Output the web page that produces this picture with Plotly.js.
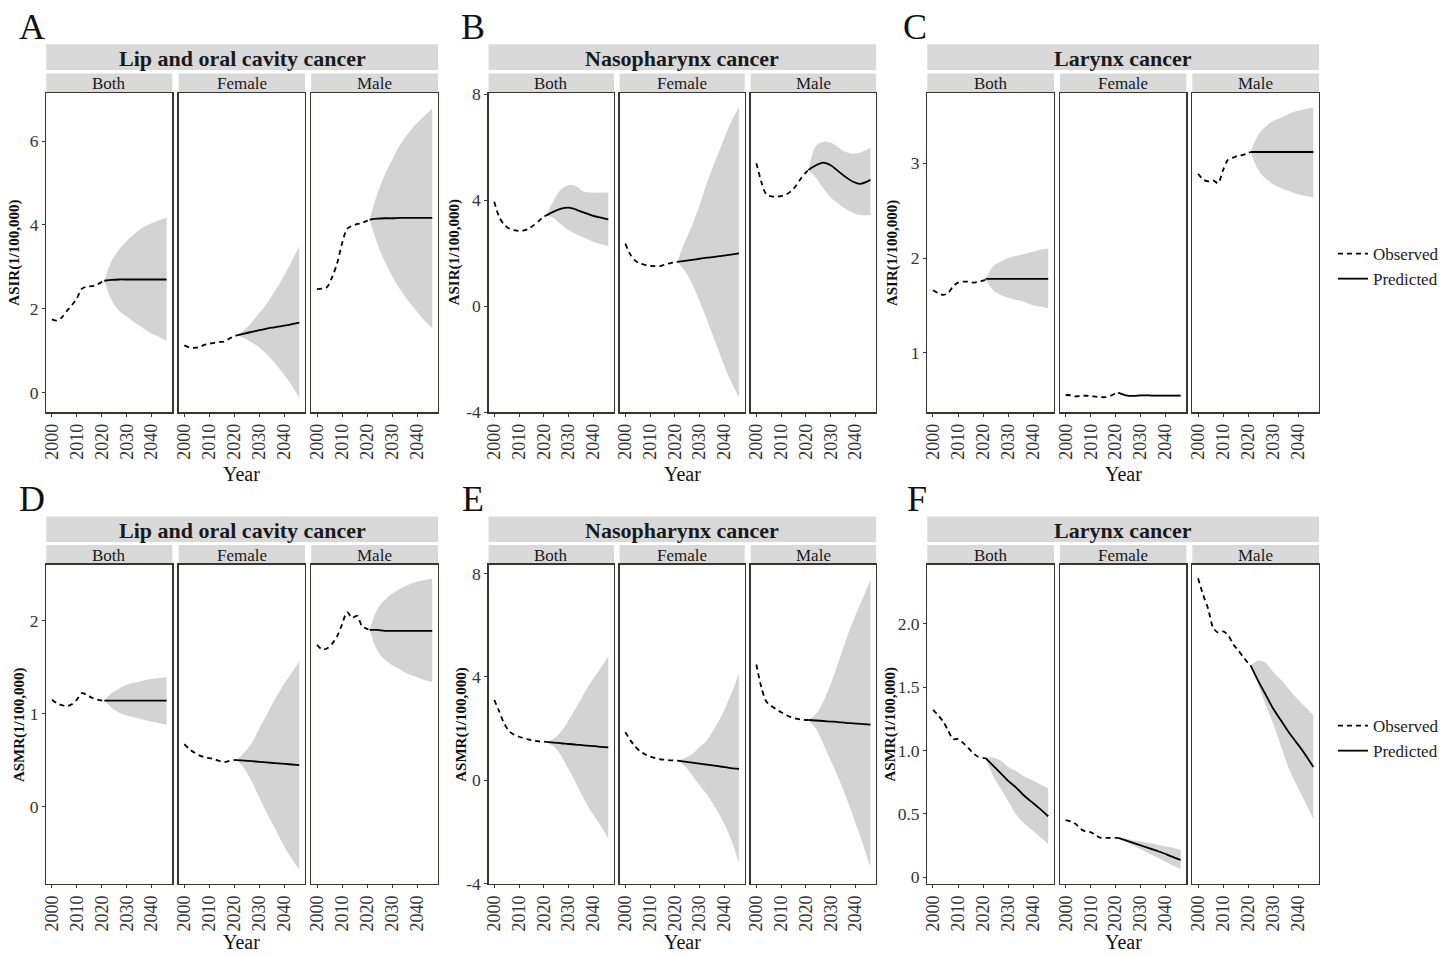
<!DOCTYPE html>
<html><head><meta charset="utf-8">
<script src="https://cdn.plot.ly/plotly-3.0.1.min.js"></script>
<style>html,body{margin:0;padding:0;background:#fff}#chart{width:1444px;height:955px}</style>
</head><body><div id="chart"></div>
<script>
// ---------------- categories & labels ----------------
const sexes = ['Both', 'Female', 'Male'];
const cancers = ['Lip and oral cavity cancer', 'Nasopharynx cancer', 'Larynx cancer'];
const measures = ['ASIR(1/100,000)', 'ASMR(1/100,000)'];
const panelLetters = ['A', 'B', 'C', 'D', 'E', 'F'];
const xTickVals = [2000, 2010, 2020, 2030, 2040];
const yTicksA = [0, 2, 4, 6];
const yTicksB = [-4, 0, 4, 8];
const yTicksC = [1, 2, 3];
const yTicksD = [0, 1, 2];
const yTicksE = [-4, 0, 4, 8];
const yTicksF = [0, 0.5, 1, 1.5, 2];
const yTickTextF = ['0', '0.5', '1.0', '1.5', '2.0'];
const legendNames = ['Observed', 'Predicted'];

// ---------------- years ----------------
const obsYears  = [2000, 2002, 2004, 2006, 2008, 2010, 2012, 2014, 2016, 2018, 2020, 2021];
const predYears = [2021, 2024, 2027, 2030, 2033, 2036, 2039, 2042, 2046];

// ---------------- A: ASIR, Lip and oral cavity ----------------
const A_Both_obs   = [1.75, 1.72, 1.80, 1.95, 2.09, 2.25, 2.48, 2.53, 2.54, 2.58, 2.64, 2.67];
const A_Both_pred  = [2.67, 2.69, 2.70, 2.70, 2.70, 2.70, 2.70, 2.70, 2.70];
const A_Both_up    = [2.67, 3.15, 3.42, 3.62, 3.78, 3.92, 4.02, 4.09, 4.17];
const A_Both_lo    = [2.67, 2.20, 1.95, 1.82, 1.68, 1.56, 1.44, 1.36, 1.24];
const A_Female_obs = [1.13, 1.08, 1.07, 1.09, 1.14, 1.17, 1.19, 1.21, 1.22, 1.29, 1.35, 1.37];
const A_Female_pred= [1.37, 1.41, 1.45, 1.49, 1.53, 1.56, 1.59, 1.62, 1.67];
const A_Female_up  = [1.37, 1.50, 1.68, 1.90, 2.13, 2.40, 2.70, 3.02, 3.50];
const A_Female_lo  = [1.37, 1.30, 1.20, 1.08, 0.92, 0.72, 0.50, 0.26, -0.12];
const A_Male_obs   = [2.47, 2.48, 2.52, 2.75, 3.08, 3.56, 3.91, 3.98, 4.02, 4.05, 4.10, 4.13];
const A_Male_pred  = [4.13, 4.15, 4.16, 4.16, 4.17, 4.17, 4.17, 4.17, 4.17];
const A_Male_up    = [4.13, 4.73, 5.20, 5.55, 5.90, 6.15, 6.37, 6.55, 6.78];
const A_Male_lo    = [4.13, 3.57, 3.13, 2.78, 2.48, 2.22, 2.00, 1.78, 1.53];

// ---------------- B: ASIR, Nasopharynx ----------------
const B_Both_obs   = [3.94, 3.37, 3.08, 2.93, 2.87, 2.84, 2.86, 2.93, 3.06, 3.22, 3.37, 3.43];
const B_Both_pred  = [3.43, 3.57, 3.68, 3.72, 3.65, 3.54, 3.44, 3.36, 3.28];
const B_Both_up    = [3.43, 4.00, 4.42, 4.57, 4.53, 4.33, 4.29, 4.29, 4.29];
const B_Both_lo    = [3.43, 3.32, 3.08, 2.87, 2.72, 2.60, 2.47, 2.37, 2.28];
const B_Female_obs = [2.36, 1.95, 1.72, 1.61, 1.56, 1.52, 1.51, 1.51, 1.57, 1.62, 1.66, 1.67];
const B_Female_pred= [1.67, 1.71, 1.75, 1.79, 1.83, 1.86, 1.90, 1.94, 1.99];
const B_Female_up  = [1.67, 2.40, 3.05, 3.80, 4.65, 5.40, 6.10, 6.80, 7.52];
const B_Female_lo  = [1.67, 1.35, 0.85, 0.20, -0.50, -1.25, -2.00, -2.70, -3.45];
const B_Male_obs   = [5.40, 4.70, 4.22, 4.15, 4.14, 4.16, 4.22, 4.34, 4.55, 4.82, 5.05, 5.14];
const B_Male_pred  = [5.14, 5.32, 5.42, 5.32, 5.10, 4.88, 4.70, 4.62, 4.77];
const B_Male_up    = [5.14, 6.05, 6.20, 6.18, 6.00, 5.82, 5.76, 5.80, 5.98];
const B_Male_lo    = [5.14, 4.85, 4.45, 4.10, 3.88, 3.68, 3.52, 3.44, 3.44];

// ---------------- C: ASIR, Larynx ----------------
const C_Both_obs   = [1.66, 1.63, 1.61, 1.63, 1.70, 1.74, 1.75, 1.75, 1.74, 1.75, 1.76, 1.77];
const C_Both_pred  = [1.78, 1.78, 1.78, 1.78, 1.78, 1.78, 1.78, 1.78, 1.78];
const C_Both_up    = [1.78, 1.91, 1.96, 2.00, 2.02, 2.04, 2.06, 2.08, 2.10];
const C_Both_lo    = [1.78, 1.66, 1.61, 1.58, 1.56, 1.54, 1.51, 1.49, 1.47];
const C_Female_obs = [0.553, 0.550, 0.537, 0.545, 0.545, 0.540, 0.535, 0.530, 0.530, 0.545, 0.570, 0.577];
const C_Female_pred= [0.577, 0.550, 0.543, 0.548, 0.548, 0.546, 0.546, 0.546, 0.546];
const C_Female_up  = [0.577, 0.556, 0.550, 0.556, 0.557, 0.556, 0.556, 0.557, 0.557];
const C_Female_lo  = [0.577, 0.544, 0.536, 0.540, 0.539, 0.536, 0.536, 0.535, 0.535];
const C_Male_obs   = [2.89, 2.83, 2.81, 2.82, 2.79, 2.93, 3.04, 3.06, 3.08, 3.09, 3.11, 3.12];
const C_Male_pred  = [3.12, 3.12, 3.12, 3.12, 3.12, 3.12, 3.12, 3.12, 3.12];
const C_Male_up    = [3.12, 3.30, 3.39, 3.45, 3.48, 3.52, 3.55, 3.57, 3.59];
const C_Male_lo    = [3.12, 2.93, 2.84, 2.78, 2.74, 2.71, 2.68, 2.66, 2.64];

// ---------------- D: ASMR, Lip and oral cavity ----------------
const D_Both_obs   = [1.15, 1.11, 1.09, 1.08, 1.10, 1.15, 1.22, 1.20, 1.17, 1.15, 1.14, 1.13];
const D_Both_pred  = [1.14, 1.14, 1.14, 1.14, 1.14, 1.14, 1.14, 1.14, 1.14];
const D_Both_up    = [1.14, 1.22, 1.27, 1.31, 1.33, 1.35, 1.37, 1.38, 1.39];
const D_Both_lo    = [1.14, 1.06, 1.01, 0.98, 0.96, 0.94, 0.92, 0.90, 0.88];
const D_Female_obs = [0.67, 0.62, 0.58, 0.55, 0.53, 0.52, 0.51, 0.49, 0.48, 0.49, 0.50, 0.50];
const D_Female_pred= [0.50, 0.494, 0.488, 0.481, 0.474, 0.468, 0.461, 0.455, 0.445];
const D_Female_up  = [0.50, 0.58, 0.68, 0.84, 0.99, 1.14, 1.28, 1.40, 1.56];
const D_Female_lo  = [0.50, 0.41, 0.27, 0.10, -0.07, -0.22, -0.38, -0.52, -0.68];
const D_Male_obs   = [1.74, 1.69, 1.70, 1.75, 1.83, 1.96, 2.09, 2.03, 2.05, 1.94, 1.91, 1.90];
const D_Male_pred  = [1.90, 1.90, 1.89, 1.89, 1.89, 1.89, 1.89, 1.89, 1.89];
const D_Male_up    = [1.90, 2.12, 2.22, 2.29, 2.34, 2.38, 2.41, 2.43, 2.45];
const D_Male_lo    = [1.90, 1.68, 1.58, 1.52, 1.48, 1.43, 1.40, 1.37, 1.34];

// ---------------- E: ASMR, Nasopharynx ----------------
const E_Both_obs   = [3.11, 2.66, 2.20, 1.90, 1.76, 1.68, 1.62, 1.57, 1.53, 1.50, 1.49, 1.48];
const E_Both_pred  = [1.48, 1.45, 1.43, 1.40, 1.38, 1.35, 1.33, 1.30, 1.27];
const E_Both_up    = [1.48, 1.60, 1.88, 2.32, 2.80, 3.32, 3.80, 4.21, 4.79];
const E_Both_lo    = [1.48, 1.30, 0.95, 0.42, -0.12, -0.70, -1.20, -1.62, -2.27];
const E_Female_obs = [1.86, 1.55, 1.30, 1.12, 1.00, 0.92, 0.86, 0.81, 0.79, 0.77, 0.76, 0.76];
const E_Female_pred= [0.76, 0.72, 0.68, 0.64, 0.60, 0.56, 0.52, 0.48, 0.44];
const E_Female_up  = [0.76, 0.85, 1.00, 1.28, 1.55, 2.00, 2.50, 3.15, 4.12];
const E_Female_lo  = [0.76, 0.55, 0.20, -0.20, -0.55, -1.00, -1.50, -2.10, -3.20];
const E_Male_obs   = [4.48, 3.60, 3.05, 2.88, 2.74, 2.63, 2.52, 2.44, 2.38, 2.35, 2.33, 2.33];
const E_Male_pred  = [2.33, 2.31, 2.29, 2.27, 2.25, 2.22, 2.20, 2.18, 2.15];
const E_Male_up    = [2.33, 2.55, 3.05, 3.73, 4.55, 5.40, 6.15, 6.84, 7.74];
const E_Male_lo    = [2.33, 2.00, 1.40, 0.76, 0.10, -0.60, -1.40, -2.20, -3.38];

// ---------------- F: ASMR, Larynx ----------------
const F_Both_obs   = [1.32, 1.28, 1.23, 1.16, 1.09, 1.09, 1.06, 1.02, 0.98, 0.95, 0.94, 0.94];
const F_Both_pred  = [0.94, 0.88, 0.82, 0.76, 0.71, 0.65, 0.60, 0.55, 0.48];
const F_Both_up    = [0.94, 0.945, 0.92, 0.87, 0.84, 0.80, 0.77, 0.74, 0.70];
const F_Both_lo    = [0.94, 0.80, 0.70, 0.60, 0.50, 0.43, 0.38, 0.33, 0.26];
const F_Female_obs = [0.45, 0.44, 0.42, 0.38, 0.36, 0.355, 0.33, 0.31, 0.31, 0.31, 0.31, 0.31];
const F_Female_pred= [0.31, 0.29, 0.27, 0.25, 0.23, 0.21, 0.19, 0.165, 0.136];
const F_Female_up  = [0.31, 0.305, 0.29, 0.28, 0.27, 0.26, 0.245, 0.235, 0.215];
const F_Female_lo  = [0.31, 0.28, 0.25, 0.22, 0.19, 0.16, 0.13, 0.10, 0.066];
const F_Male_obs   = [2.36, 2.23, 2.12, 1.97, 1.93, 1.94, 1.91, 1.84, 1.79, 1.74, 1.69, 1.67];
const F_Male_pred  = [1.67, 1.55, 1.44, 1.33, 1.24, 1.15, 1.07, 0.99, 0.87];
const F_Male_up    = [1.67, 1.71, 1.69, 1.62, 1.56, 1.49, 1.42, 1.36, 1.28];
const F_Male_lo    = [1.67, 1.52, 1.36, 1.21, 1.04, 0.87, 0.74, 0.62, 0.46];

// ---------------- assemble panels from the arrays ----------------
const panelSeries = [
  [[A_Both_obs, A_Both_pred, A_Both_up, A_Both_lo], [A_Female_obs, A_Female_pred, A_Female_up, A_Female_lo], [A_Male_obs, A_Male_pred, A_Male_up, A_Male_lo]],
  [[B_Both_obs, B_Both_pred, B_Both_up, B_Both_lo], [B_Female_obs, B_Female_pred, B_Female_up, B_Female_lo], [B_Male_obs, B_Male_pred, B_Male_up, B_Male_lo]],
  [[C_Both_obs, C_Both_pred, C_Both_up, C_Both_lo], [C_Female_obs, C_Female_pred, C_Female_up, C_Female_lo], [C_Male_obs, C_Male_pred, C_Male_up, C_Male_lo]],
  [[D_Both_obs, D_Both_pred, D_Both_up, D_Both_lo], [D_Female_obs, D_Female_pred, D_Female_up, D_Female_lo], [D_Male_obs, D_Male_pred, D_Male_up, D_Male_lo]],
  [[E_Both_obs, E_Both_pred, E_Both_up, E_Both_lo], [E_Female_obs, E_Female_pred, E_Female_up, E_Female_lo], [E_Male_obs, E_Male_pred, E_Male_up, E_Male_lo]],
  [[F_Both_obs, F_Both_pred, F_Both_up, F_Both_lo], [F_Female_obs, F_Female_pred, F_Female_up, F_Female_lo], [F_Male_obs, F_Male_pred, F_Male_up, F_Male_lo]]
];
const panelYTicks = [yTicksA, yTicksB, yTicksC, yTicksD, yTicksE, yTicksF];
const panelYTickText = [null, null, null, null, null, yTickTextF];

// ---------------- geometry & style (pixels) ----------------
const W = 1444, H = 955;
const FONT = 'Liberation Serif, "Times New Roman", Times, serif';
const panelYRange = [[-0.467, 7.14], [-4.01, 8.04], [0.37, 3.74], [-0.833, 2.603], [-4.02, 8.35], [-0.055, 2.469]];
const xRange = [1997.7, 2048.3];
const colPx = [
  [[46.7, 174], [180.3, 308], [314.3, 442.3]],
  [[493.3, 620], [625.7, 752], [758, 884.7]],
  [[936.3, 1064.3], [1070.3, 1198], [1204, 1332]]
];
const rowPx = [
  {plot: [93.3, 412.3], title: [44.3, 70], sub: [73.5, 92], year: 474, letterY: 27},
  {plot: [564.5, 884], title: [516.5, 542], sub: [545, 563.5], year: 942, letterY: 499}
];
const yTitleX = [[15, 459, 902], [19, 466, 899]];
const letterX = [[32, 478, 924], [32, 478, 926]];
const FRAME = '#3b3431';
const BAND = '#d3d3d3';
const STRIP = '#d9d9d9';

const px2x = v => v / W;
const px2y = v => 1 - v / H;

const traces = [];
const legendStyle = {xanchor: 'left', yanchor: 'top', bgcolor: 'rgba(0,0,0,0)', traceorder: 'normal',
  font: {family: FONT, size: 17, color: '#222'}, itemwidth: 30, tracegroupgap: 0};
const layout = {
  width: W, height: H, autosize: false,
  margin: {l: 0, r: 0, t: 0, b: 0, pad: 0},
  paper_bgcolor: '#ffffff', plot_bgcolor: '#ffffff',
  font: {family: FONT, color: '#222'},
  showlegend: true,
  legend: Object.assign({x: px2x(1346), y: px2y(236)}, legendStyle),
  legend2: Object.assign({x: px2x(1346), y: px2y(708)}, legendStyle),
  shapes: [], annotations: []
};

for (let p = 0; p < 6; p++) {
  const row = Math.floor(p / 3), g = p % 3;
  const R = rowPx[row];
  const cols = colPx[g];
  // strips
  layout.shapes.push({type: 'rect', xref: 'paper', yref: 'paper', x0: px2x(cols[0][0]), x1: px2x(cols[2][1]),
    y0: px2y(R.title[1]), y1: px2y(R.title[0]), fillcolor: STRIP, line: {width: 0}, layer: 'below'});
  layout.annotations.push({xref: 'paper', yref: 'paper', x: px2x((cols[0][0] + cols[2][1]) / 2), y: px2y((R.title[0] + R.title[1]) / 2 + 1),
    text: '<b>' + cancers[g] + '</b>', showarrow: false, xanchor: 'center', yanchor: 'middle',
    font: {family: FONT, size: 22, color: '#1a1a1a'}});
  for (let f = 0; f < 3; f++) {
    layout.shapes.push({type: 'rect', xref: 'paper', yref: 'paper', x0: px2x(cols[f][0]), x1: px2x(cols[f][1]),
      y0: px2y(R.sub[1]), y1: px2y(R.sub[0]), fillcolor: STRIP, line: {width: 0}, layer: 'below'});
    layout.annotations.push({xref: 'paper', yref: 'paper', x: px2x((cols[f][0] + cols[f][1]) / 2), y: px2y((R.sub[0] + R.sub[1]) / 2 + 1),
      text: sexes[f], showarrow: false, xanchor: 'center', yanchor: 'middle',
      font: {family: FONT, size: 17, color: '#1a1a1a'}});
  }
  // letter
  layout.annotations.push({xref: 'paper', yref: 'paper', x: px2x(letterX[row][g]), y: px2y(R.letterY),
    text: panelLetters[p], showarrow: false, xanchor: 'center', yanchor: 'middle',
    font: {family: FONT, size: 36, color: '#111'}});
  // y title
  layout.annotations.push({xref: 'paper', yref: 'paper', x: px2x(yTitleX[row][g]), y: px2y((R.plot[0] + R.plot[1]) / 2),
    text: '<b>' + measures[row] + '</b>', showarrow: false, textangle: -90, xanchor: 'center', yanchor: 'middle',
    font: {family: FONT, size: 15, color: '#111'}});
  // x title
  layout.annotations.push({xref: 'paper', yref: 'paper', x: px2x((cols[1][0] + cols[1][1]) / 2), y: px2y(R.year),
    text: 'Year', showarrow: false, xanchor: 'center', yanchor: 'middle',
    font: {family: FONT, size: 20, color: '#111'}});

  for (let f = 0; f < 3; f++) {
    const idx = p * 3 + f + 1;
    const xk = 'xaxis' + (idx === 1 ? '' : idx), yk = 'yaxis' + (idx === 1 ? '' : idx);
    const xr = 'x' + (idx === 1 ? '' : idx), yr = 'y' + (idx === 1 ? '' : idx);
    layout[xk] = {
      domain: [px2x(cols[f][0]), px2x(cols[f][1])], range: xRange, anchor: yr,
      tickmode: 'array', tickvals: xTickVals, ticktext: xTickVals.map(String), tickangle: -90,
      ticks: 'outside', ticklen: 3, tickwidth: 1, tickcolor: FRAME,
      tickfont: {family: FONT, size: 18, color: '#333'},
      showline: true, mirror: true, linecolor: FRAME, linewidth: 1.2,
      showgrid: false, zeroline: false, automargin: false, fixedrange: true
    };
    const yt = panelYTicks[p];
    layout[yk] = {
      domain: [px2y(R.plot[1]), px2y(R.plot[0])], range: panelYRange[p], anchor: xr,
      tickmode: 'array', tickvals: yt, ticktext: panelYTickText[p] || yt.map(String),
      showticklabels: f === 0, ticks: f === 0 ? 'outside' : '', ticklen: 3, tickwidth: 1, tickcolor: FRAME,
      tickfont: {family: FONT, size: 17.5, color: '#333'},
      showline: true, mirror: true, linecolor: FRAME, linewidth: 1.2,
      showgrid: false, zeroline: false, automargin: false, fixedrange: true
    };
    const [obs, pred, up, lo] = panelSeries[p][f];
    const legendKey = (f === 0 && (p === 0 || p === 3)) ? (p === 0 ? 'legend' : 'legend2') : null;
    traces.push({type: 'scatter', mode: 'lines', x: predYears, y: lo, xaxis: xr, yaxis: yr,
      line: {width: 0, color: 'rgba(0,0,0,0)', shape: 'spline', smoothing: 1}, showlegend: false, hoverinfo: 'skip'});
    traces.push({type: 'scatter', mode: 'lines', x: predYears, y: up, xaxis: xr, yaxis: yr, fill: 'tonexty', fillcolor: BAND,
      line: {width: 0, color: 'rgba(0,0,0,0)', shape: 'spline', smoothing: 1}, showlegend: false, hoverinfo: 'skip'});
    traces.push({type: 'scatter', mode: 'lines', x: obsYears, y: obs, xaxis: xr, yaxis: yr, name: legendNames[0],
      line: {color: '#000', width: 1.8, dash: '5px,4px', shape: 'spline', smoothing: 0.8},
      showlegend: !!legendKey, legend: legendKey || 'legend'});
    traces.push({type: 'scatter', mode: 'lines', x: predYears, y: pred, xaxis: xr, yaxis: yr, name: legendNames[1],
      line: {color: '#000', width: 1.8, shape: 'spline', smoothing: 0.8},
      showlegend: !!legendKey, legend: legendKey || 'legend'});
  }
}

Plotly.newPlot('chart', traces, layout, {staticPlot: true, displayModeBar: false});
</script></body></html>
